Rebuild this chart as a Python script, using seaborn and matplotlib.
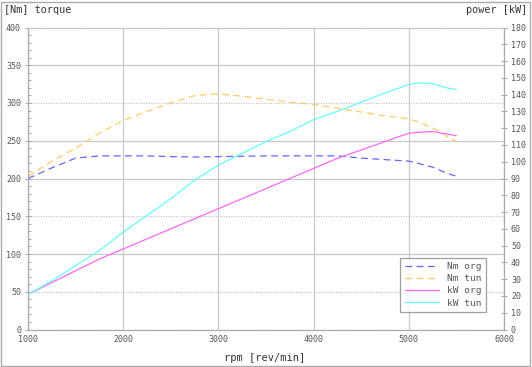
import numpy as np
import pandas as pd
import matplotlib
matplotlib.use("Agg")
import matplotlib.pyplot as plt
from matplotlib.patches import Rectangle
from matplotlib.ticker import MultipleLocator
import seaborn as sns

# chart values
rpm = [1000, 1250, 1500, 1750, 2000, 2250, 2500, 2750, 3000, 3250, 3500,
       3750, 4000, 4250, 4500, 4750, 5000, 5100, 5250, 5400, 5500]
nm_org = [200, 214, 227, 230, 230, 230, 229, 228.5, 229, 229.5, 230,
          230, 230, 230, 227, 225, 223, 220, 215, 207, 203]
nm_tun = [203, 223, 240, 260, 277, 289, 300, 310, 312, 309, 305,
          301, 298, 293, 288, 283, 279, 275, 267, 256, 249]
kw_org = [21, 28, 35, 42, 48, 54, 60, 66, 72, 78, 84,
          90, 96, 102, 107, 112, 117, 117.5, 118, 116.5, 115.5]
kw_tun = [21, 29, 38, 47, 58, 68, 78, 89, 98, 105, 112,
          118, 125, 130, 135.5, 141, 146, 147, 146.5, 144, 143]

labels = ["Nm org", "Nm tun", "kW org", "kW tun"]
colors = ["#6666ff", "#ffcc66", "#ff66ff", "#66ffff"]

df = pd.DataFrame({"rpm": rpm, "Nm org": nm_org, "Nm tun": nm_tun,
                   "kW org": kw_org, "kW tun": kw_tun})

sns.set_style("white")
plt.rcParams["font.family"] = ["DejaVu Sans Mono", "DejaVu Sans"]

fig = plt.figure(figsize=(5.32, 3.67), dpi=100)
ax = fig.add_axes([28 / 532, 37.5 / 367, 476 / 532, 302 / 367])
ax2 = ax.twinx()

grid_c = "#c8c8c8"
txt_c = "#555555"

# torque lines (left axis), dashed
sns.lineplot(data=df, x="rpm", y="Nm org", ax=ax, color=colors[0], lw=0.9)
sns.lineplot(data=df, x="rpm", y="Nm tun", ax=ax, color=colors[1], lw=0.9)
for ln in ax.get_lines():
    ln.set_dashes((5.5, 3.5))

# power lines (right axis), solid
sns.lineplot(data=df, x="rpm", y="kW org", ax=ax2, color=colors[2], lw=0.9)
sns.lineplot(data=df, x="rpm", y="kW tun", ax=ax2, color=colors[3], lw=0.9)

ax.set_xlim(1000, 6000)
ax.set_ylim(0, 400)
ax2.set_ylim(0, 180)
ax.set_xlabel("")
ax.set_ylabel("")
ax2.set_ylabel("")

ax.xaxis.set_major_locator(MultipleLocator(1000))
ax.xaxis.set_minor_locator(MultipleLocator(200))
ax.yaxis.set_major_locator(MultipleLocator(50))
ax.yaxis.set_minor_locator(MultipleLocator(10))
ax2.yaxis.set_major_locator(MultipleLocator(10))
ax2.yaxis.set_minor_locator(MultipleLocator(5))

ax.tick_params(axis="x", which="major", direction="inout", length=4,
               width=0.6, color="#999999", labelsize=6, labelcolor=txt_c, pad=2)
ax.tick_params(axis="x", which="minor", direction="in", length=2,
               width=0.6, color="#999999")
ax.tick_params(axis="y", which="major", direction="inout", length=4,
               width=0.6, color="#999999", labelsize=6, labelcolor=txt_c, pad=3)
ax.tick_params(axis="y", which="minor", direction="in", length=2,
               width=0.6, color="#999999")
ax2.tick_params(axis="y", which="major", direction="inout", length=4,
                width=0.6, color="#999999", labelsize=6, labelcolor=txt_c, pad=3)
ax2.tick_params(axis="y", which="minor", length=0)

# grid: vertical solid, horizontal mix of solid / dotted
ax.grid(True, axis="x", color=grid_c, lw=0.9, ls="-")
ax.grid(True, axis="y", color=grid_c, lw=0.9)
ax.set_axisbelow(True)
solid_levels = [100, 200, 250, 350]
for val, gl in zip(ax.get_yticks(), ax.get_ygridlines()):
    if val in solid_levels:
        gl.set_linestyle("-")
    else:
        gl.set_linestyle((0, (1, 1)))

for a in (ax, ax2):
    for s in a.spines.values():
        s.set_color("#aaaaaa")
        s.set_linewidth(0.8)
    a.spines["top"].set_linestyle((0, (1, 1)))
    a.spines["top"].set_color(grid_c)

# legend on top axes
handles = [h for h in ax.get_lines() if h.get_color() in colors] + \
          [h for h in ax2.get_lines() if h.get_color() in colors]
leg = ax2.legend(handles, labels, loc="lower right",
                 bbox_to_anchor=(0.962, 0.058), frameon=True, fancybox=False,
                 fontsize=6.8, handlelength=3.6, handletextpad=0.9,
                 borderpad=0.45, labelspacing=0.35, borderaxespad=0)
leg.get_frame().set_edgecolor("#888888")
leg.get_frame().set_linewidth(0.9)
for t in leg.get_texts():
    t.set_color(txt_c)

fig.text(4 / 532, 1 - 10 / 367, "[Nm] torque", fontsize=7.3, color="#333333",
         va="center", ha="left")
fig.text(527 / 532, 1 - 10 / 367, "power [kW]", fontsize=7.3, color="#333333",
         va="center", ha="right")
fig.text(265 / 532, 1 - 358 / 367, "rpm [rev/min]", fontsize=7.5,
         color="#333333", va="center", ha="center")

fig.patches.append(Rectangle((1 / 532, 1 / 367), 529 / 532, 364 / 367,
                             transform=fig.transFigure, fill=False,
                             ec="#aaaaaa", lw=1))

fig.savefig("out.png", dpi=100)
